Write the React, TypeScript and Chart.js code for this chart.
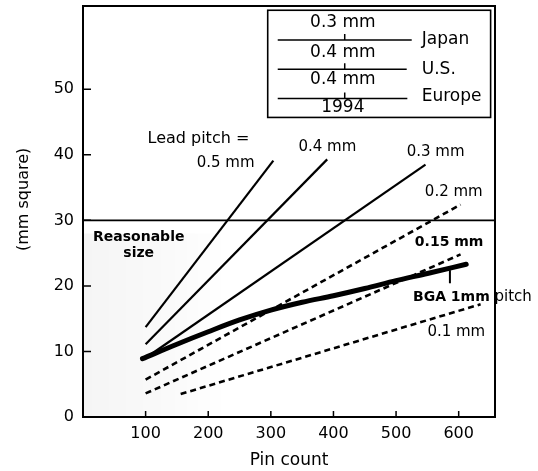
import { useEffect, useRef } from "react";
import { Chart, registerables } from "chart.js";

Chart.register(...registerables);

// ---- data ----
const X_TICKS = [100, 200, 300, 400, 500, 600];
const Y_TICKS = [0, 10, 20, 30, 40, 50];

const PITCH_05_X = [100, 304];
const PITCH_05_Y = [13.7, 39.1];
const PITCH_04_X = [100, 390];
const PITCH_04_Y = [11.1, 39.3];
const PITCH_03_X = [100, 547];
const PITCH_03_Y = [9.0, 38.5];
const PITCH_02_X = [100, 603];
const PITCH_02_Y = [5.7, 32.4];
const PITCH_015_X = [100, 603];
const PITCH_015_Y = [3.6, 24.8];
const PITCH_01_X = [156, 635];
const PITCH_01_Y = [3.5, 17.2];
const BGA_X = [95, 150, 200, 250, 300, 350, 400, 450, 500, 550, 612];
const BGA_Y = [8.9, 11.1, 13.0, 14.8, 16.3, 17.5, 18.5, 19.6, 20.8, 21.9, 23.3];

const REASONABLE_LIMIT = 30;

const LEGEND_PITCHES = ["0.3 mm", "0.4 mm", "0.4 mm"];
const LEGEND_REGIONS = ["Japan", "U.S.", "Europe"];
const LEGEND_YEAR = "1994";

const LINE_LABELS = ["0.5 mm", "0.4 mm", "0.3 mm", "0.2 mm", "0.15 mm", "0.1 mm"];
const Y_TITLE = "(mm square)";
const X_TITLE = "Pin count";

const FONT = '"DejaVu Sans", sans-serif';

const pts = (xs: number[], ys: number[]) => xs.map((x, i) => ({ x, y: ys[i] }));

const decorPlugin = {
  id: "decor",
  beforeDatasetsDraw(chart: any) {
    const { ctx, chartArea } = chart;
    const sx = chart.scales.x;
    const sy = chart.scales.y;
    // faint stippled "reasonable size" region
    const x0 = chartArea.left;
    const x1 = sx.getPixelForValue(230);
    const yTop = sy.getPixelForValue(28);
    const yBot = sy.getPixelForValue(0);
    const g = ctx.createLinearGradient(x0, 0, x1, 0);
    g.addColorStop(0, "rgba(0,0,0,0.04)");
    g.addColorStop(0.6, "rgba(0,0,0,0.02)");
    g.addColorStop(1, "rgba(0,0,0,0)");
    ctx.save();
    ctx.fillStyle = g;
    ctx.fillRect(x0, yTop, x1 - x0, yBot - yTop);
    ctx.restore();
  },
  afterDatasetsDraw(chart: any) {
    const { ctx, chartArea } = chart;
    const sx = chart.scales.x;
    const sy = chart.scales.y;
    const px = (v: number) => sx.getPixelForValue(v);
    const py = (v: number) => sy.getPixelForValue(v);
    ctx.save();
    ctx.strokeStyle = "#000";
    ctx.fillStyle = "#000";

    // reasonable-size limit line
    ctx.lineWidth = 1.6;
    ctx.beginPath();
    ctx.moveTo(chartArea.left, py(REASONABLE_LIMIT));
    ctx.lineTo(chartArea.right, py(REASONABLE_LIMIT));
    ctx.stroke();

    // frame
    ctx.lineWidth = 2;
    ctx.strokeRect(chartArea.left, chartArea.top, chartArea.right - chartArea.left, chartArea.bottom - chartArea.top);

    // inward ticks
    ctx.lineWidth = 1.5;
    ctx.beginPath();
    X_TICKS.forEach((v) => {
      ctx.moveTo(px(v), chartArea.bottom);
      ctx.lineTo(px(v), chartArea.bottom - 6);
    });
    Y_TICKS.forEach((v) => {
      ctx.moveTo(chartArea.left, py(v));
      ctx.lineTo(chartArea.left + 8, py(v));
    });
    ctx.stroke();

    // y title
    ctx.save();
    ctx.font = `16px ${FONT}`;
    ctx.textAlign = "center";
    ctx.textBaseline = "middle";
    ctx.translate(chartArea.left - 59, py(33.2));
    ctx.rotate(-Math.PI / 2);
    ctx.fillText(Y_TITLE, 0, 0);
    ctx.restore();

    // legend box
    const bl = px(295), br = px(651), bt = py(62.05), bb = py(45.7);
    ctx.lineWidth = 1.6;
    ctx.strokeRect(bl, bt, br - bl, bb - bt);
    const lineY = [57.5, 53.05, 48.6];
    const lineEnd = [525, 517, 518];
    const textY = [60.1, 55.6, 51.4];
    const regionY = [57.6, 53.05, 48.9];
    ctx.font = `17px ${FONT}`;
    ctx.textBaseline = "middle";
    lineY.forEach((ly, i) => {
      ctx.lineWidth = 1.5;
      ctx.beginPath();
      ctx.moveTo(px(311), py(ly));
      ctx.lineTo(px(lineEnd[i]), py(ly));
      ctx.moveTo(px(418), py(ly));
      ctx.lineTo(px(418), py(ly) - 6);
      ctx.stroke();
      ctx.textAlign = "center";
      ctx.fillText(LEGEND_PITCHES[i], px(415), py(textY[i]));
      ctx.textAlign = "left";
      ctx.fillText(LEGEND_REGIONS[i], px(541), py(regionY[i]));
    });
    ctx.textAlign = "center";
    ctx.fillText(LEGEND_YEAR, px(415), py(47.2));

    // annotations
    ctx.font = `16px ${FONT}`;
    ctx.textAlign = "left";
    ctx.fillText("Lead pitch =", px(103), py(42.5));
    ctx.font = `15px ${FONT}`;
    ctx.textAlign = "right";
    ctx.fillText(LINE_LABELS[0], px(274), py(38.7));
    ctx.textAlign = "left";
    ctx.fillText(LINE_LABELS[1], px(344), py(41.2));
    ctx.fillText(LINE_LABELS[2], px(517), py(40.4));
    ctx.fillText(LINE_LABELS[3], px(546), py(34.3));
    ctx.font = `bold 14px ${FONT}`;
    ctx.fillText(LINE_LABELS[4], px(530), py(26.7));
    ctx.font = `15px ${FONT}`;
    ctx.fillText(LINE_LABELS[5], px(550), py(12.9));

    ctx.font = `bold 14px ${FONT}`;
    ctx.textAlign = "center";
    ctx.fillText("Reasonable", px(89), py(27.4));
    ctx.fillText("size", px(89), py(25.0));

    // BGA label
    ctx.textAlign = "left";
    ctx.font = `bold 14px ${FONT}`;
    const bgaText = "BGA 1mm";
    ctx.fillText(bgaText, px(527), py(18.3));
    const w = ctx.measureText(bgaText).width;
    ctx.font = `15px ${FONT}`;
    ctx.fillText(" pitch", px(527) + w, py(18.3));
    ctx.lineWidth = 2;
    ctx.beginPath();
    ctx.moveTo(px(586), py(22.4));
    ctx.lineTo(px(586), py(20.4));
    ctx.stroke();

    ctx.restore();
  },
};

export default function App() {
  const ref = useRef<HTMLCanvasElement | null>(null);

  useEffect(() => {
    if (!ref.current) return;
    const solid = (data: any) => ({
      data,
      showLine: true,
      borderColor: "#000",
      backgroundColor: "#000",
      borderWidth: 2.2,
      pointRadius: 0,
      fill: false,
    });
    const dashed = (data: any) => ({
      ...solid(data),
      borderWidth: 2.6,
      borderDash: [6, 4],
    });
    const chart = new Chart(ref.current, {
      type: "scatter",
      data: {
        datasets: [
          { label: "0.5 mm", ...solid(pts(PITCH_05_X, PITCH_05_Y)) },
          { label: "0.4 mm", ...solid(pts(PITCH_04_X, PITCH_04_Y)) },
          { label: "0.3 mm", ...solid(pts(PITCH_03_X, PITCH_03_Y)) },
          { label: "0.2 mm", ...dashed(pts(PITCH_02_X, PITCH_02_Y)) },
          { label: "0.15 mm", ...dashed(pts(PITCH_015_X, PITCH_015_Y)) },
          { label: "0.1 mm", ...dashed(pts(PITCH_01_X, PITCH_01_Y)) },
          {
            label: "BGA 1mm pitch",
            ...solid(pts(BGA_X, BGA_Y)),
            borderWidth: 5,
            tension: 0.4,
            cubicInterpolationMode: "monotone",
            borderCapStyle: "round",
          },
        ] as any,
      },
      options: {
        animation: false,
        responsive: true,
        maintainAspectRatio: false,
        layout: { padding: { top: 6, right: 43, left: 0, bottom: 0 } },
        plugins: {
          legend: { display: false },
          tooltip: { enabled: false },
        },
        scales: {
          x: {
            type: "linear",
            min: 0,
            max: 658,
            afterBuildTicks: (s: any) => {
              s.ticks = X_TICKS.map((value) => ({ value }));
            },
            afterFit: (s: any) => {
              s.height = 54;
              s.paddingLeft = 0;
              s.paddingRight = 0;
            },
            grid: { display: false, drawTicks: false },
            border: { display: false },
            ticks: {
              color: "#000",
              font: { family: FONT, size: 16 },
              padding: 7,
              maxRotation: 0,
            },
            title: {
              display: true,
              text: X_TITLE,
              color: "#000",
              font: { family: FONT, size: 17 },
              padding: { top: 0, bottom: 0 },
            },
          },
          y: {
            type: "linear",
            min: 0,
            max: 62.7,
            afterBuildTicks: (s: any) => {
              s.ticks = Y_TICKS.map((value) => ({ value }));
            },
            afterFit: (s: any) => {
              s.width = 83;
              s.paddingTop = 0;
              s.paddingBottom = 0;
            },
            grid: { display: false, drawTicks: false },
            border: { display: false },
            ticks: {
              color: "#000",
              font: { family: FONT, size: 16 },
              padding: 9,
            },
            title: { display: false },
          },
        },
      } as any,
      plugins: [decorPlugin],
    });
    return () => chart.destroy();
  }, []);

  return (
    <div style={{ position: "fixed", left: 0, top: 0, width: 538, height: 471, background: "#fff" }}>
      <canvas ref={ref} />
    </div>
  );
}
